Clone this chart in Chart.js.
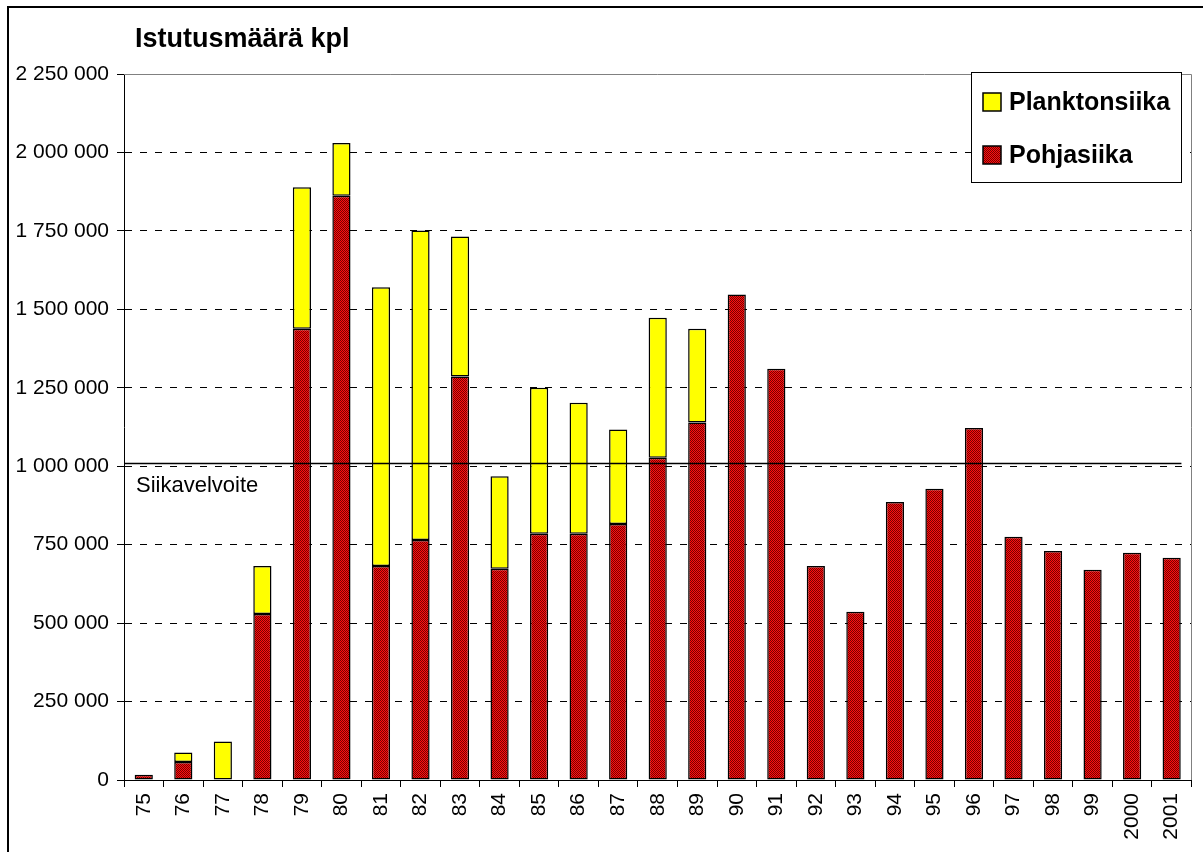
<!DOCTYPE html>
<html><head><meta charset="utf-8">
<script src="https://cdn.jsdelivr.net/npm/chart.js@4.4.1/dist/chart.umd.min.js"></script>
<style>html,body{margin:0;padding:0;background:#fff;overflow:hidden}#wrap{width:1203px;height:852px;position:relative}</style>
</head><body><div id="wrap"><canvas id="c" width="1203" height="852"></canvas></div>
<script>
const years = ['75','76','77','78','79','80','81','82','83','84','85','86','87','88','89','90','91','92','93','94','95','96','97','98','99','2000','2001'];
const pohjasiika = [17000,57000,0,529000,1438000,1862000,682000,765000,1286000,673000,785000,785000,816000,1027000,1139000,1547000,1311000,682000,536000,886000,928000,1122000,775000,730000,670000,724000,708000];
const planktonsiika = [0,31000,123000,153000,451000,168000,888000,986000,446000,295000,465000,417000,301000,446000,299000,0,0,0,0,0,0,0,0,0,0,0,0];
const yTicks = [0,250000,500000,750000,1000000,1250000,1500000,1750000,2000000,2250000];
const targetValue = 1010000;
const targetLabel = 'Siikavelvoite';
const chartTitle = 'Istutusmäärä kpl';
const seriesNames = ['Pohjasiika','Planktonsiika'];

const FONT = '"Liberation Sans", Arial, Helvetica, sans-serif';
const canvas = document.getElementById('c');
const ctx = canvas.getContext('2d');

function makePattern(){
  const p = document.createElement('canvas'); p.width = 2; p.height = 2;
  const g = p.getContext('2d');
  g.fillStyle = '#ff1010'; g.fillRect(0,0,2,2);
  g.fillStyle = '#7a0000'; g.fillRect(0,0,1,1); g.fillRect(1,1,1,1);
  return ctx.createPattern(p,'repeat');
}
const redPattern = makePattern();
const yMax = yTicks[yTicks.length-1];
const fmt = v => String(v).replace(/\B(?=(\d{3})+(?!\d))/g,' ');

const decor = {
  id: 'decor',
  beforeDraw(chart){
    const c = chart.ctx;
    c.save();
    c.fillStyle = '#fff'; c.fillRect(0,0,chart.width,chart.height);
    c.restore();
  },
  afterDatasetsDraw(chart){
    const c = chart.ctx, a = chart.chartArea, y = chart.scales.y;
    c.save();
    c.strokeStyle = '#808080'; c.lineWidth = 1;
    c.beginPath();
    c.moveTo(a.left, Math.round(a.top)+0.5); c.lineTo(Math.round(a.right)+0.5, Math.round(a.top)+0.5);
    c.lineTo(Math.round(a.right)+0.5, a.bottom);
    c.stroke();
    const ty = Math.round(y.getPixelForValue(targetValue)) + 0.5;
    c.strokeStyle = '#000'; c.lineWidth = 1.5;
    c.beginPath(); c.moveTo(a.left, ty); c.lineTo(a.right - 10, ty); c.stroke();
    c.fillStyle = '#000'; c.font = '22px ' + FONT; c.textBaseline = 'alphabetic'; c.textAlign = 'left';
    c.fillText(targetLabel, a.left + 12, ty + 28);
    c.restore();
  },
  afterDraw(chart){
    const c = chart.ctx;
    c.save();
    c.strokeStyle = '#000'; c.lineWidth = 2;
    c.strokeRect(8, 7, chart.width + 20, chart.height + 20);
    c.fillStyle = '#000'; c.font = 'bold 27px ' + FONT; c.textBaseline = 'alphabetic'; c.textAlign = 'left';
    c.fillText(chartTitle, 135, 47);
    const lx = 971.5, ly = 72.5, lw = 210, lh = 110;
    c.fillStyle = '#fff'; c.fillRect(lx, ly, lw, lh);
    c.strokeStyle = '#000'; c.lineWidth = 1; c.strokeRect(lx, ly, lw, lh);
    const ds = chart.data.datasets.slice().reverse();
    ds.forEach((d, i) => {
      const cy = 102 + i * 53;
      c.fillStyle = d.backgroundColor;
      c.fillRect(983, cy - 9, 18, 18);
      c.strokeStyle = '#000'; c.lineWidth = 1.5; c.strokeRect(983, cy - 9, 18, 18);
      c.fillStyle = '#000'; c.font = 'bold 25px ' + FONT; c.textBaseline = 'middle';
      c.fillText(d.label, 1009, cy + 1);
    });
    c.restore();
  }
};

new Chart(ctx, {
  type: 'bar',
  data: {
    labels: years,
    datasets: [
      { label: seriesNames[0], data: pohjasiika, backgroundColor: redPattern, borderColor: '#000', borderWidth: 1.5, borderSkipped: false, barPercentage: 0.46, categoryPercentage: 1 },
      { label: seriesNames[1], data: planktonsiika, backgroundColor: '#ffff00', borderColor: '#000', borderWidth: 1.5, borderSkipped: false, barPercentage: 0.46, categoryPercentage: 1 }
    ]
  },
  options: {
    responsive: false, animation: false, devicePixelRatio: 1,
    layout: { padding: { left: 8, top: 74, right: 8, bottom: 0 } },
    plugins: { legend: { display: false }, title: { display: false }, tooltip: { enabled: false } },
    scales: {
      x: {
        stacked: true,
        grid: { display: true, drawOnChartArea: false, drawTicks: true, tickLength: 7, tickColor: '#000', offset: true },
        border: { display: true, color: '#000', width: 1 },
        ticks: { autoSkip: false, minRotation: 90, maxRotation: 90, padding: 6, color: '#000', font: { family: FONT, size: 21 } },
        afterFit: s => { s.height = 72; }
      },
      y: {
        stacked: true, min: 0, max: yMax,
        afterBuildTicks: s => { s.ticks = yTicks.map(v => ({ value: v })); },
        grid: { color: c => (c.tick && c.tick.value === yMax) ? 'rgba(0,0,0,0)' : '#000', lineWidth: 1, tickLength: 7, tickColor: '#000', tickBorderDash: [], drawTicks: true },
        border: { display: true, color: '#000', width: 1, dash: [7, 8] },
        ticks: { padding: 8, color: '#000', font: { family: FONT, size: 21 }, callback: v => fmt(v) },
        afterFit: s => { s.width = 116; }
      }
    }
  },
  plugins: [decor]
});
</script></body></html>
